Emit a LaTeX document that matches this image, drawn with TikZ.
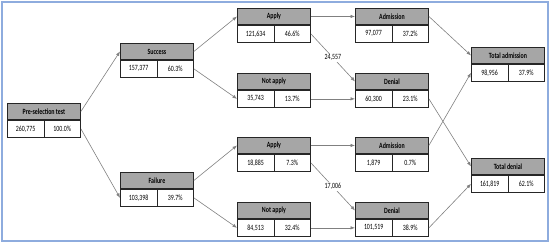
\documentclass[tikz,border=0pt]{standalone}
\usepackage{fontspec}
\setmainfont{Carlito}[FakeStretch=0.74]
\usepackage{xcolor}
\usepackage{tikz}
\usetikzlibrary{arrows.meta,positioning,calc}
\definecolor{HeadGrey}{RGB}{166,166,166}
\definecolor{LineGrey}{RGB}{128,128,128}
\definecolor{FrameBlue}{RGB}{142,172,222}

\begin{document}
\begin{tikzpicture}[
    x=1bp, y=-1bp,
    every node/.style={font=\fontsize{8}{9.6}\selectfont, inner sep=1pt},
    head/.style={draw=black!85, line width=0.9pt, fill=HeadGrey, anchor=north west, minimum width=73bp, minimum height=16bp, font=\fontsize{8}{9.6}\selectfont\bfseries},
    cell/.style={draw=black!85, line width=0.9pt, fill=white, minimum width=36.5bp, minimum height=17bp},
    flow/.style={draw=LineGrey, line width=0.6pt, -{Latex[length=4.5bp,width=3.5bp]}},
    split/.style={fill=white, inner sep=1pt}
]
% frame
\draw[FrameBlue, line width=1.6pt] (2,2) rectangle (548,241);
\useasboundingbox (0,0) rectangle (550,244);

% boxes: name / left / top / title / count / share
\foreach \nm/\xx/\yy/\ttl/\cnt/\pct in {
    pre/7/103/Pre-selection test/{260,775}/100.0\%,
    succ/120/43/Success/{157,377}/60.3\%,
    fail/120/172/Failure/{103,398}/39.7\%,
    sapply/237/8/Apply/{121,634}/46.6\%,
    snot/237/73/Not apply/{35,743}/13.7\%,
    fapply/237/137/Apply/{18,885}/7.3\%,
    fnot/237/202/Not apply/{84,513}/32.4\%,
    sadm/355/8/Admission/{97,077}/37.2\%,
    sden/355/73/Denial/{60,300}/23.1\%,
    fadm/355/137/Admission/{1,879}/0.7\%,
    fden/355/202/Denial/{101,519}/38.9\%,
    totadm/471/47/Total admission/{98,956}/37.9\%,
    totden/471/158/Total denial/{161,819}/62.1\%}{
    \node[head] (\nm) at (\xx,\yy) {\ttl};
    \node[cell, anchor=north west] (\nm-n) at (\nm.south west) {\cnt};
    \node[cell, anchor=north east] (\nm-p) at (\nm.south east) {\pct};
}

% connectors
\draw[flow] (pre.east) -- (succ.west);
\draw[flow] (pre-p.east) -- (fail-n.west);
\draw[flow] (succ.east) -- (sapply.west);
\draw[flow] (succ-p.east) -- (snot-n.west);
\draw[flow] (fail.east) -- (fapply.west);
\draw[flow] (fail-p.east) -- (fnot-n.west);
\draw[flow] (sapply.east) -- (sadm.west);
\draw[flow] (sapply-p.east) -- node[split] {24,557} (sden.west);
\draw[flow] (snot-p.east) -- (sden-n.west);
\draw[flow] (fapply.east) -- (fadm.west);
\draw[flow] (fapply-p.east) -- node[split] {17,006} (fden.west);
\draw[flow] (fnot-p.east) -- (fden-n.west);
\draw[flow] (sadm.east) -- (totadm.west);
\draw[flow] (fadm.east) -- (totadm-n.west);
\draw[flow] (sden-p.east) -- (totden.west);
\draw[flow] (fden-p.east) -- (totden-n.west);
\end{tikzpicture}
\end{document}
